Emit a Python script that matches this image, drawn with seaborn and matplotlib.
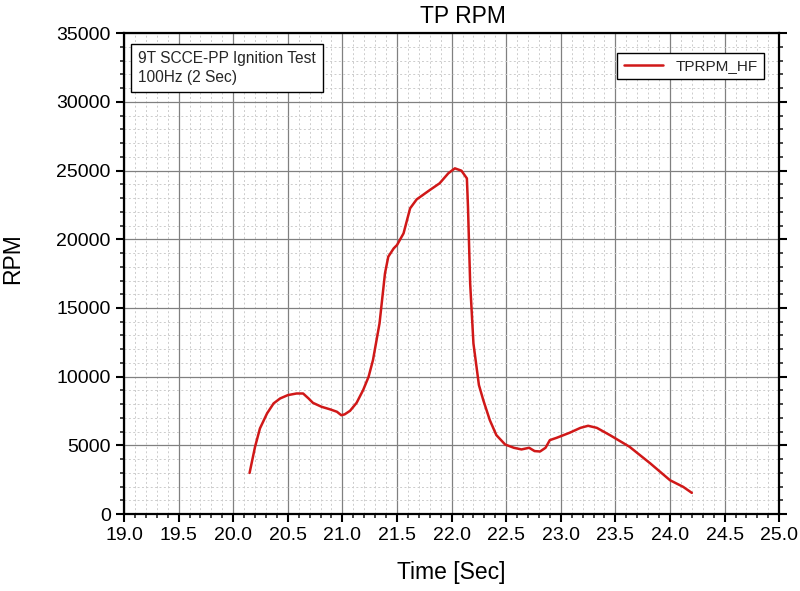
import matplotlib
matplotlib.use("Agg")
import matplotlib.pyplot as plt
from matplotlib.ticker import MultipleLocator
import seaborn as sns
import pandas as pd

time_sec = [20.15, 20.20, 20.245, 20.31, 20.37, 20.43, 20.50, 20.58, 20.64, 20.69,
            20.73, 20.81, 20.89, 20.95, 20.99, 21.02, 21.07, 21.13, 21.19, 21.24,
            21.28, 21.34, 21.39, 21.42, 21.47, 21.50, 21.56, 21.62, 21.68, 21.80,
            21.89, 21.97, 22.03, 22.09, 22.14, 22.15, 22.17, 22.20, 22.25, 22.29,
            22.35, 22.41, 22.49, 22.57, 22.64, 22.71, 22.76, 22.81, 22.86, 22.90,
            22.96, 23.08, 23.18, 23.25, 23.33, 23.45, 23.63, 23.82, 24.00, 24.12,
            24.20]
rpm = [3000, 4900, 6240, 7330, 8060, 8420, 8660, 8780, 8780, 8420,
       8100, 7810, 7620, 7450, 7200, 7260, 7520, 8100, 9030, 10000,
       11210, 13880, 17520, 18730, 19340, 19580, 20430, 22250, 22900, 23580,
       24070, 24800, 25160, 24990, 24430, 22360, 16790, 12420, 9400, 8300,
       6840, 5750, 5070, 4830, 4710, 4830, 4590, 4560, 4830, 5390,
       5550, 5920, 6280, 6430, 6280, 5750, 4900, 3690, 2470, 1990,
       1550]

df = pd.DataFrame({"Time [Sec]": time_sec, "RPM": rpm})

sns.set_theme(style="white")
plt.rcParams['font.family'] = ['Liberation Sans', 'DejaVu Sans']

fig = plt.figure(figsize=(8, 5.91), dpi=100)
ax = fig.add_axes([0.155, 0.130, 0.819, 0.814])

sns.lineplot(data=df, x="Time [Sec]", y="RPM", ax=ax, color="#D01818",
             linewidth=1.8, label="TPRPM_HF", sort=False)

ax.set_xlim(19.0, 25.0)
ax.set_ylim(0, 35000)
ax.xaxis.set_major_locator(MultipleLocator(0.5))
ax.xaxis.set_minor_locator(MultipleLocator(0.1))
ax.yaxis.set_major_locator(MultipleLocator(5000))
ax.yaxis.set_minor_locator(MultipleLocator(1000))
ax.set_xticklabels([f"{v:.1f}" for v in ax.get_xticks()])

ax.grid(which="major", color="#808080", linewidth=0.9, linestyle="-")
ax.grid(which="minor", color="#CCCCCC", linewidth=0.7, linestyle=(0, (2, 2.5)))
ax.set_axisbelow(True)

for s in ax.spines.values():
    s.set_color("black")
    s.set_linewidth(1.6)

ax.tick_params(axis="both", which="major", direction="out", length=6, width=1.5,
               labelsize=14, colors="black", bottom=True, left=True,
               right=True, top=False, labelright=False)
ax.tick_params(axis="both", which="minor", direction="out", length=3, width=1.2,
               bottom=True, left=True, right=True, top=False)

ax.set_title("TP RPM", fontsize=16.5, x=0.518, pad=7, color="black")
ax.set_xlabel("Time [Sec]", fontsize=16.5, labelpad=12, color="black")
ax.set_ylabel("RPM", fontsize=16.5, color="black")
ax.yaxis.set_label_coords(-0.153, 0.532)

ax.text(0.021, 0.962, "9T SCCE-PP Ignition Test\n100Hz (2 Sec)", transform=ax.transAxes,
        fontsize=11.2, va="top", ha="left", linespacing=1.3,
        bbox=dict(boxstyle="square,pad=0.45", facecolor="white", edgecolor="black", linewidth=1.0))

leg = ax.legend(loc="upper right", bbox_to_anchor=(0.988, 0.975), fontsize=11,
                frameon=True, fancybox=False, edgecolor="black", framealpha=1,
                handlelength=2.6, borderpad=0.4)
leg.get_frame().set_linewidth(1.0)

fig.savefig("out.png", dpi=100)
